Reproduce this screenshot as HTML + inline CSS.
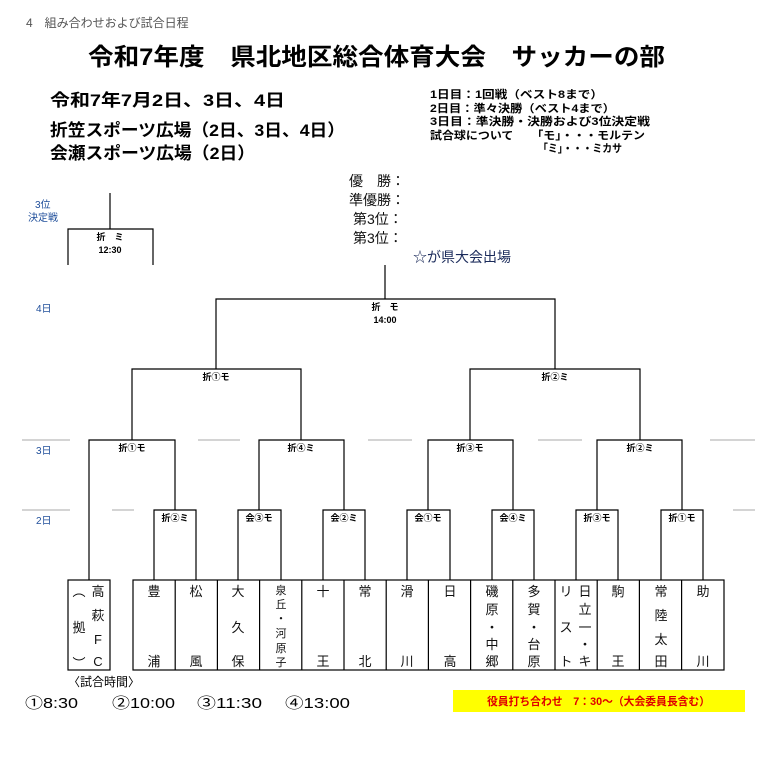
<!DOCTYPE html>
<html><head><meta charset="utf-8"><style>
html,body{margin:0;padding:0;background:#fff;}
svg{display:block;}
text{font-family:"Liberation Sans","Noto Sans CJK JP",sans-serif;}
</style></head><body>
<svg width="766" height="774" viewBox="0 0 766 774" xmlns="http://www.w3.org/2000/svg">
<text x="26" y="27" font-size="12" fill="#555">4　組み合わせおよび試合日程</text>
<text x="88" y="65" font-size="24" font-weight="bold" fill="#000" textLength="577" lengthAdjust="spacingAndGlyphs">令和7年度　県北地区総合体育大会　サッカーの部</text>
<text x="50" y="106" font-size="17" font-weight="bold" textLength="235" lengthAdjust="spacingAndGlyphs">令和7年7月2日、3日、4日</text>
<text x="50" y="136" font-size="17" font-weight="bold" textLength="295" lengthAdjust="spacingAndGlyphs">折笠スポーツ広場（2日、3日、4日）</text>
<text x="50" y="159" font-size="17" font-weight="bold" textLength="205" lengthAdjust="spacingAndGlyphs">会瀬スポーツ広場（2日）</text>
<g font-size="11" font-weight="bold">
<text x="430" y="98" textLength="173" lengthAdjust="spacingAndGlyphs">1日目：1回戦（ベスト8まで）</text>
<text x="430" y="112" textLength="185" lengthAdjust="spacingAndGlyphs">2日目：準々決勝（ベスト4まで）</text>
<text x="430" y="125" textLength="220" lengthAdjust="spacingAndGlyphs">3日目：準決勝・決勝および3位決定戦</text>
<text x="430" y="139" textLength="215" lengthAdjust="spacingAndGlyphs">試合球について　　「モ」・・・モルテン</text>
<text x="538" y="152" textLength="84" lengthAdjust="spacingAndGlyphs">「ミ」・・・ミカサ</text>
</g>
<g font-size="14" fill="#111">
<text x="349" y="186">優　勝：</text>
<text x="349" y="205">準優勝：</text>
<text x="353" y="224">第3位：</text>
<text x="353" y="243">第3位：</text>
<text x="413" y="262" fill="#1a2a5a">☆が県大会出場</text>
</g>
<g font-size="10" fill="#1f4e9a">
<text x="35" y="208">3位</text>
<text x="28" y="221">決定戦</text>
<text x="36" y="312">4日</text>
<text x="36" y="454">3日</text>
<text x="36" y="524">2日</text>
</g>
<g stroke="#aaa" stroke-width="1">
<line x1="22" y1="440" x2="70" y2="440"/><line x1="198" y1="440" x2="240" y2="440"/><line x1="368" y1="440" x2="412" y2="440"/><line x1="538" y1="440" x2="582" y2="440"/><line x1="710" y1="440" x2="755" y2="440"/>
<line x1="22" y1="510" x2="70" y2="510"/><line x1="112" y1="510" x2="134" y2="510"/><line x1="733" y1="510" x2="755" y2="510"/>
</g>
<g stroke="#000" stroke-width="1.2" fill="none">
<polyline points="110,193 110,229"/>
<polyline points="68,265 68,229 153,229 153,265"/>
<polyline points="385,265 385,299"/>
<polyline points="216,369 216,299 555,299 555,369"/>
<polyline points="132,440 132,369 301,369 301,440"/>
<polyline points="470,440 470,369 640,369 640,440"/>
<polyline points="89,580 89,440 175,440 175,510"/>
<polyline points="259,510 259,440 344,440 344,510"/>
<polyline points="428,510 428,440 513,440 513,510"/>
<polyline points="597,510 597,440 682,440 682,510"/>
<polyline points="154,580 154,510 196,510 196,580"/>
<polyline points="238,580 238,510 281,510 281,580"/>
<polyline points="323,580 323,510 365,510 365,580"/>
<polyline points="407,580 407,510 450,510 450,580"/>
<polyline points="492,580 492,510 534,510 534,580"/>
<polyline points="576,580 576,510 618,510 618,580"/>
<polyline points="661,580 661,510 703,510 703,580"/>
<rect x="68" y="580" width="42" height="90"/>
<rect x="133" y="580" width="591" height="90"/>
<path d="M175.2 580V670M217.4 580V670M259.6 580V670M301.8 580V670M344 580V670M386.2 580V670M428.4 580V670M470.6 580V670M512.8 580V670M555 580V670M597.2 580V670M639.4 580V670M681.6 580V670"/>
</g>
<g font-size="9" font-weight="bold" text-anchor="middle">
<text x="110" y="240">折　ミ</text><text x="110" y="253">12:30</text>
<text x="385" y="310">折　モ</text><text x="385" y="323">14:00</text>
<text x="216" y="380">折①モ</text><text x="555" y="380">折②ミ</text>
<text x="132" y="451">折①モ</text><text x="301" y="451">折④ミ</text><text x="470" y="451">折③モ</text><text x="640" y="451">折②ミ</text>
<text x="175" y="521">折②ミ</text><text x="259" y="521">会③モ</text><text x="344" y="521">会②ミ</text><text x="428" y="521">会①モ</text><text x="513" y="521">会④ミ</text><text x="597" y="521">折③モ</text><text x="682" y="521">折①モ</text>
</g>
<g font-size="13" text-anchor="middle" fill="#111">
<text x="79" y="596">︵</text><text x="79" y="632">拠</text><text x="79" y="668">︶</text>
<text x="98" y="596">高</text><text x="98" y="620">萩</text><text x="98" y="644">F</text><text x="98" y="666">C</text>
<text x="154" y="596">豊</text><text x="154" y="666">浦</text>
<text x="196" y="596">松</text><text x="196" y="666">風</text>
<text x="238" y="596">大</text><text x="238" y="632">久</text><text x="238" y="666">保</text>
<g font-size="11"><text x="281" y="594">泉</text><text x="281" y="608">丘</text><text x="281" y="622">・</text><text x="281" y="637">河</text><text x="281" y="652">原</text><text x="281" y="666">子</text></g>
<text x="323" y="596">十</text><text x="323" y="666">王</text>
<text x="365" y="596">常</text><text x="365" y="666">北</text>
<text x="407" y="596">滑</text><text x="407" y="666">川</text>
<text x="450" y="596">日</text><text x="450" y="666">高</text>
<text x="492" y="596">磯</text><text x="492" y="614">原</text><text x="492" y="632">・</text><text x="492" y="649">中</text><text x="492" y="666">郷</text>
<text x="534" y="596">多</text><text x="534" y="614">賀</text><text x="534" y="632">・</text><text x="534" y="649">台</text><text x="534" y="666">原</text>
<text x="566" y="596">リ</text><text x="566" y="632">ス</text><text x="566" y="666">ト</text>
<text x="585" y="596">日</text><text x="585" y="614">立</text><text x="585" y="632">一</text><text x="585" y="649">・</text><text x="585" y="666">キ</text>
<text x="618" y="596">駒</text><text x="618" y="666">王</text>
<text x="661" y="596">常</text><text x="661" y="620">陸</text><text x="661" y="644">太</text><text x="661" y="666">田</text>
<text x="703" y="596">助</text><text x="703" y="666">川</text>
</g>
<text x="68" y="686" font-size="12">〈試合時間〉</text>
<g font-size="15"><text x="25" y="708" textLength="53" lengthAdjust="spacingAndGlyphs">①8:30</text><text x="112" y="708" textLength="63" lengthAdjust="spacingAndGlyphs">②10:00</text><text x="197" y="708" textLength="65" lengthAdjust="spacingAndGlyphs">③11:30</text><text x="285" y="708" textLength="65" lengthAdjust="spacingAndGlyphs">④13:00</text></g>
<rect x="453" y="690" width="292" height="22" fill="#ffff00"/>
<text x="487" y="705" font-size="11" font-weight="bold" fill="#e00000" textLength="223" lengthAdjust="spacingAndGlyphs">役員打ち合わせ　7：30～（大会委員長含む）</text>
</svg>
</body></html>
